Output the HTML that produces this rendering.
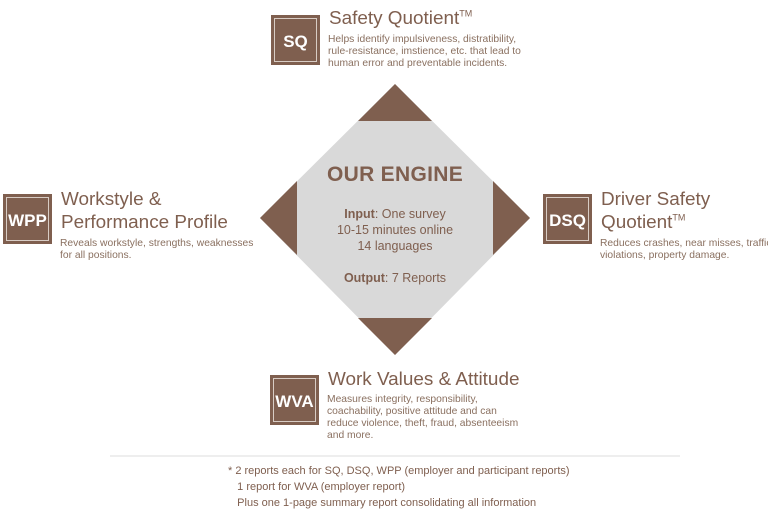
<!DOCTYPE html>
<html><head><style>
body{margin:0;width:768px;height:511px;background:#fff;position:relative;overflow:hidden;font-family:"Liberation Sans",sans-serif;color:#7f5f4f}
.a{position:absolute;white-space:nowrap}
.box{position:absolute;background:#7f5f4f;width:49px;height:50px;box-sizing:border-box}
.box:before{content:"";position:absolute;left:3px;top:3px;right:3px;bottom:3px;border:1px solid #d8ccc4}
.box span{position:absolute;left:0;right:0;top:17px;text-align:center;color:#fff;font-weight:bold;font-size:17px}
.t{font-size:18.9px;line-height:23px}
.d{font-size:10.3px;line-height:12px;color:#8a7060}
sup{font-size:9px;line-height:0}
</style></head><body>
<svg class="a" style="left:0;top:0" width="768" height="511">
<polygon points="395,84 530,218 395,355 260,218" fill="#d9d9d9"/>
<polygon points="395,84 432,121 358,121" fill="#7f5f4f"/>
<polygon points="395,355 432,318 358,318" fill="#7f5f4f"/>
<polygon points="260,218 297,181 297,255" fill="#7f5f4f"/>
<polygon points="530,218 493,181 493,255" fill="#7f5f4f"/>
<line x1="110" y1="456" x2="680" y2="456" stroke="#ddd" stroke-width="1"/>
</svg>
<div class="a" style="left:260px;width:270px;top:163px;text-align:center;font-weight:bold;font-size:21px;letter-spacing:0.3px">OUR ENGINE</div>
<div class="a" style="left:260px;width:270px;top:206px;text-align:center;font-size:12.5px;line-height:16px"><b>Input</b>: One survey<br>10-15 minutes online<br>14 languages<br><br><b>Output</b>: 7 Reports</div>

<div class="box" style="left:271px;top:15px"><span>SQ</span></div>
<div class="a t" style="left:329px;top:7px">Safety Quotient<sup>TM</sup></div>
<div class="a d" style="left:328px;top:34px">Helps identify impulsiveness, distratibility,<br>rule-resistance, imstience, etc. that lead to<br>human error and preventable incidents.</div>

<div class="box" style="left:3px;top:194px"><span>WPP</span></div>
<div class="a t" style="left:61px;top:188px">Workstyle &amp;<br>Performance Profile</div>
<div class="a d" style="left:60px;top:238px">Reveals workstyle, strengths, weaknesses<br>for all positions.</div>

<div class="box" style="left:543px;top:194px"><span>DSQ</span></div>
<div class="a t" style="left:601px;top:188px">Driver Safety<br>Quotient<sup>TM</sup></div>
<div class="a d" style="left:600px;top:238px">Reduces crashes, near misses, traffic<br>violations, property damage.</div>

<div class="box" style="left:270px;top:375px"><span>WVA</span></div>
<div class="a t" style="left:328px;top:368px">Work Values &amp; Attitude</div>
<div class="a d" style="left:327px;top:394px">Measures integrity, responsibility,<br>coachability, positive attitude and can<br>reduce violence, theft, fraud, absenteeism<br>and more.</div>

<div class="a" style="left:228px;top:463px;font-size:11px;line-height:16px">* 2 reports each for SQ, DSQ, WPP (employer and participant reports)<br>&nbsp;&nbsp;&nbsp;1 report for WVA (employer report)<br>&nbsp;&nbsp;&nbsp;Plus one 1-page summary report consolidating all information</div>
</body></html>
